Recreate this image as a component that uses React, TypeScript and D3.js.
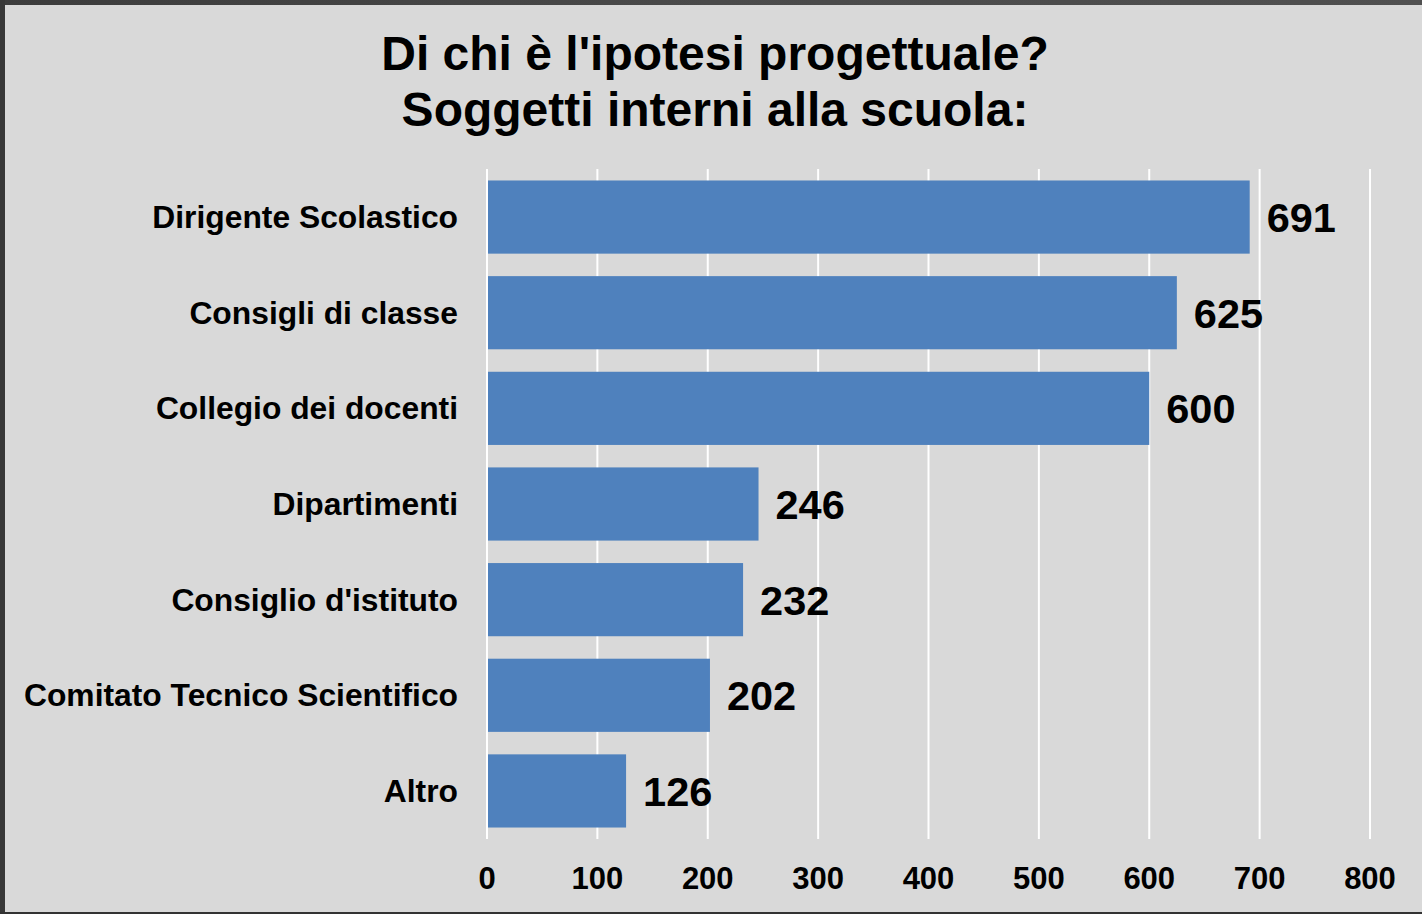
import React from "react";
import * as d3 from "d3";

const categories = [
  "Dirigente Scolastico",
  "Consigli di classe",
  "Collegio dei docenti",
  "Dipartimenti",
  "Consiglio d'istituto",
  "Comitato Tecnico Scientifico",
  "Altro",
];
const values = [691, 625, 600, 246, 232, 202, 126];
const ticks = [0, 100, 200, 300, 400, 500, 600, 700, 800];
const titleLines = ["Di chi è l'ipotesi progettuale?", "Soggetti interni alla scuola:"];

const W = 1422;
const H = 914;
const FONT = "'Liberation Sans', Arial, Helvetica, sans-serif";

export default function App() {
  const x = d3.scaleLinear().domain([0, 800]).range([487, 1370]);
  const y = d3
    .scaleBand<string>()
    .domain(categories)
    .range([169, 839])
    .paddingInner(0.235)
    .paddingOuter(0.12);

  return (
    <svg
      width={W}
      height={H}
      style={{ position: "absolute", left: 0, top: 0, display: "block" }}
    >
      <defs>
        <linearGradient id="topB" x1="0" x2="1" y1="0" y2="0">
          <stop offset="0" stopColor="#3c3c3c" />
          <stop offset="0.5" stopColor="#4a4a4a" />
          <stop offset="1" stopColor="#505050" />
        </linearGradient>
      </defs>
      <rect x={0} y={0} width={W} height={H} fill="#d9d9d9" />
      <rect x={0} y={0} width={W} height={5} fill="url(#topB)" />
      <rect x={0} y={0} width={5} height={H} fill="#383838" />
      <rect x={0} y={H - 2} width={W} height={2} fill="#333333" />

      {titleLines.map((t, i) => (
        <text
          key={i}
          x={715}
          y={70 + i * 56}
          textAnchor="middle"
          fontFamily={FONT}
          fontWeight="bold"
          fontSize={48}
          fill="#000"
        >
          {t}
        </text>
      ))}

      {ticks.map((t) => (
        <line
          key={"g" + t}
          x1={x(t)}
          x2={x(t)}
          y1={169}
          y2={839}
          stroke="#ffffff"
          strokeWidth={2}
        />
      ))}

      {categories.map((c, i) => {
        const by = y(c)!;
        const bh = y.bandwidth();
        return (
          <g key={c}>
            <rect
              x={x(0) + 1}
              y={by}
              width={x(values[i]) - x(0) - 1}
              height={bh}
              fill="#4f81bd"
            />
            <text
              x={458}
              y={by + bh / 2 + 11}
              textAnchor="end"
              fontFamily={FONT}
              fontWeight="bold"
              fontSize={31.8}
              fill="#000"
            >
              {c}
            </text>
            <text
              x={x(values[i]) + 17}
              y={by + bh / 2 + 15}
              textAnchor="start"
              fontFamily={FONT}
              fontWeight="bold"
              fontSize={41.5}
              fill="#000"
            >
              {values[i]}
            </text>
          </g>
        );
      })}

      {ticks.map((t) => (
        <text
          key={"t" + t}
          x={x(t)}
          y={889}
          textAnchor="middle"
          fontFamily={FONT}
          fontWeight="bold"
          fontSize={31}
          fill="#000"
        >
          {t}
        </text>
      ))}
    </svg>
  );
}
